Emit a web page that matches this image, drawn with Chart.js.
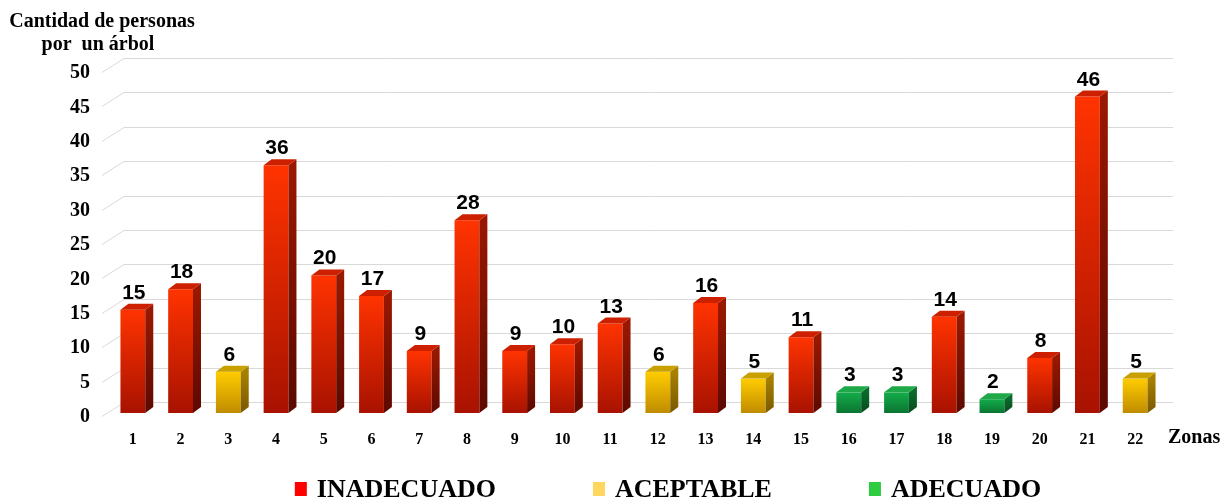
<!DOCTYPE html>
<html>
<head>
<meta charset="utf-8">
<title>Cantidad de personas por un árbol</title>
<script src="https://cdn.jsdelivr.net/npm/chart.js@4.4.0/dist/chart.umd.min.js"></script>
<style>
	body { margin: 0; background: #fff; }
	#wrap { width: 1227px; height: 501px; }
</style>
</head>
<body>
<div id="wrap"><canvas id="arboles-chart" width="1227" height="501"></canvas></div>
<script>
var zonas = ['1','2','3','4','5','6','7','8','9','10','11','12','13','14','15','16','17','18','19','20','21','22'];
var personas = [15, 18, 6, 36, 20, 17, 9, 28, 9, 10, 13, 6, 16, 5, 11, 3, 3, 14, 2, 8, 46, 5];
var nivel = ['INADECUADO','INADECUADO','ACEPTABLE','INADECUADO','INADECUADO','INADECUADO','INADECUADO',
	'INADECUADO','INADECUADO','INADECUADO','INADECUADO','ACEPTABLE','INADECUADO','ACEPTABLE',
	'INADECUADO','ADECUADO','ADECUADO','INADECUADO','ADECUADO','INADECUADO','INADECUADO','ACEPTABLE'];
var categorias = ['INADECUADO', 'ACEPTABLE', 'ADECUADO'];

// colours for each face of the 3d bars
var colores = {
	INADECUADO: { front: ['#ff3300', '#a81200'], side: ['#9a1800', '#5c0900'], top: '#cc2000', legend: '#ff0000' },
	ACEPTABLE:  { front: ['#ffcc00', '#c08c00'], side: ['#a88000', '#7a5800'], top: '#c8a000', legend: '#ffd75e' },
	ADECUADO:   { front: ['#14ac4a', '#0a7532'], side: ['#0b6a2c', '#064a1e'], top: '#1fa848', legend: '#2ecc40' }
};

var DX = 8, DY = 6;
var serif = '"Liberation Serif", "Times New Roman", serif';
var sans = '"Liberation Sans", Arial, sans-serif';

function barGradient(ctx, c, v) {
	var chart = ctx.chart;
	if (!chart.chartArea || v == null) return c.front[0];
	var y = chart.scales.y;
	var g = chart.ctx.createLinearGradient(0, y.getPixelForValue(v), 0, y.getPixelForValue(0));
	g.addColorStop(0, c.front[0]);
	g.addColorStop(1, c.front[1]);
	return g;
}

var datasets = categorias.map(function (cat) {
	var c = colores[cat];
	return {
		label: cat,
		data: personas.map(function (p, i) { return nivel[i] === cat ? p : null; }),
		backgroundColor: function (ctx) { return barGradient(ctx, c, ctx.raw); },
		borderWidth: 0,
		grouped: false,
		barPercentage: 0.52,
		categoryPercentage: 1,
		colores: c
	};
});

// back wall with diagonal grid lines
var wallPlugin = {
	id: 'wall',
	beforeDatasetsDraw: function (chart) {
		var ctx = chart.ctx, area = chart.chartArea, y = chart.scales.y;
		ctx.save();
		ctx.strokeStyle = '#d9d9d9';
		ctx.lineWidth = 1;
		y.ticks.forEach(function (t) {
			var py = Math.round(y.getPixelForValue(t.value)) + 0.5;
			ctx.beginPath();
			ctx.moveTo(area.left - 7, py + 3);
			ctx.lineTo(area.left + 15, py - 11);
			ctx.lineTo(area.right + 14, py - 11);
			ctx.stroke();
		});
		ctx.restore();
	}
};

// side and top faces plus value labels
var bar3dPlugin = {
	id: 'bar3d',
	afterDatasetsDraw: function (chart) {
		var ctx = chart.ctx;
		ctx.save();
		chart.data.datasets.forEach(function (ds, di) {
			var meta = chart.getDatasetMeta(di);
			var c = ds.colores;
			meta.data.forEach(function (el, i) {
				var v = ds.data[i];
				if (v == null) return;
				var p = el.getProps(['x', 'y', 'base', 'width'], true);
				var l = p.x - p.width / 2, r = p.x + p.width / 2;

				var sg = ctx.createLinearGradient(0, p.y, 0, p.base);
				sg.addColorStop(0, c.side[0]);
				sg.addColorStop(1, c.side[1]);
				ctx.fillStyle = sg;
				ctx.beginPath();
				ctx.moveTo(r, p.y);
				ctx.lineTo(r + DX, p.y - DY);
				ctx.lineTo(r + DX, p.base - DY);
				ctx.lineTo(r, p.base);
				ctx.closePath();
				ctx.fill();

				ctx.fillStyle = c.top;
				ctx.beginPath();
				ctx.moveTo(l, p.y);
				ctx.lineTo(l + DX, p.y - DY);
				ctx.lineTo(r + DX, p.y - DY);
				ctx.lineTo(r, p.y);
				ctx.closePath();
				ctx.fill();

				ctx.fillStyle = '#000';
				ctx.font = 'bold 21px ' + sans;
				ctx.textAlign = 'center';
				ctx.textBaseline = 'alphabetic';
				ctx.fillText(String(v), p.x + 1, p.y - DY - 5);
			});
		});
		ctx.restore();
	}
};

// axis titles and legend
var textosPlugin = {
	id: 'textos',
	afterDraw: function (chart) {
		var ctx = chart.ctx, area = chart.chartArea;
		ctx.save();
		ctx.fillStyle = '#000';
		ctx.textBaseline = 'middle';

		ctx.font = 'bold 20px ' + serif;
		ctx.textAlign = 'center';
		ctx.fillText('Cantidad de personas', 102, 22);
		ctx.fillText('por  un árbol', 98, 45);

		ctx.font = 'bold 20px ' + serif;
		ctx.textAlign = 'left';
		ctx.fillText('Zonas', area.right + 9, area.bottom + 25);

		ctx.font = 'bold 26px ' + serif;
		var gap = 97, box = 12, pad = 10;
		var widths = chart.data.datasets.map(function (ds) {
			return box + pad + ctx.measureText(ds.label).width;
		});
		var total = widths.reduce(function (a, b) { return a + b; }, 0) + gap * (widths.length - 1);
		var x = (chart.width + area.left) / 2 - total / 2;
		var ly = 489;
		chart.data.datasets.forEach(function (ds, i) {
			ctx.fillStyle = ds.colores.legend;
			ctx.fillRect(x, ly - 7, box, 14);
			ctx.fillStyle = '#000';
			ctx.fillText(ds.label, x + box + pad, ly + 1);
			x += widths[i] + gap;
		});
		ctx.restore();
	}
};

new Chart('arboles-chart', {
	type: 'bar',
	data: {
		labels: zonas,
		datasets: datasets
	},
	options: {
		responsive: false,
		animation: false,
		layout: { padding: { top: 69, right: 68, bottom: 48, left: 0 } },
		plugins: {
			legend: { display: false },
			tooltip: { enabled: false }
		},
		scales: {
			x: {
				grid: { display: false, drawTicks: false },
				border: { display: false },
				ticks: { color: '#000', font: { family: serif, size: 16, weight: 'bold' }, padding: 17 },
				afterFit: function (scale) { scale.height = 40; }
			},
			y: {
				min: 0,
				max: 50,
				grid: { display: false, drawTicks: false },
				border: { display: false },
				ticks: { stepSize: 5, color: '#000', font: { family: serif, size: 20, weight: 'bold' }, padding: 19, labelOffset: 4 },
				afterFit: function (scale) { scale.width = 109; }
			}
		}
	},
	plugins: [wallPlugin, bar3dPlugin, textosPlugin]
});
</script>
</body>
</html>
